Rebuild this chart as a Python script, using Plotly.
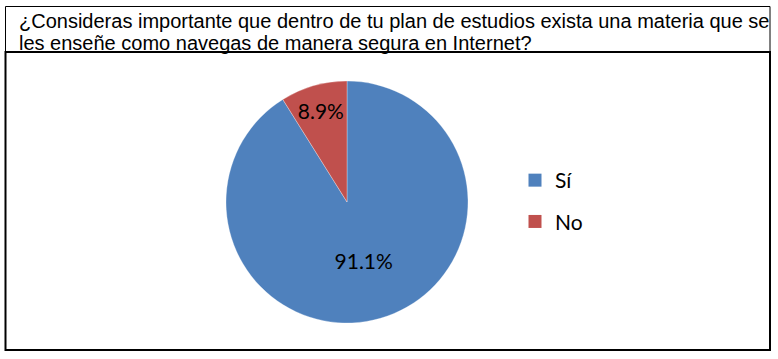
import plotly.graph_objects as go

W, H = 778, 359

title_lines = [
    "¿Consideras importante que dentro de tu plan de estudios exista una materia que se",
    "les enseñe como navegas de manera segura en Internet?",
]
labels = ["Sí", "No"]
values = [91.1, 8.9]
colors = ["#4F81BD", "#C0504D"]

def px_x(x):
    return x / W

def px_y(y):
    return (H - y) / H

cx, cy, r = 347, 202, 121
label_font = dict(family="Lato, Carlito, Calibri, sans-serif", size=21, color="#000000")

fig = go.Figure()
fig.add_trace(go.Pie(
    labels=labels,
    values=values,
    sort=False,
    direction="clockwise",
    rotation=0,
    marker=dict(colors=colors, line=dict(color="rgba(255,255,255,0.6)", width=0.5)),
    texttemplate="%{value:.1f}%",
    textposition="inside",
    insidetextorientation="horizontal",
    textfont=label_font,
    domain=dict(x=[px_x(cx - r), px_x(cx + r)], y=[px_y(cy + r), px_y(cy - r)]),
    hoverinfo="label+percent",
    showlegend=False,
))

# legend entries (one per category)
for lab, col in zip(labels, colors):
    fig.add_trace(go.Scatter(
        x=[None], y=[None], mode="markers", name=lab, legendgroup=lab,
        marker=dict(symbol="square", size=13, color=col),
        showlegend=True, hoverinfo="skip",
    ))

shapes = [
    dict(type="rect", xref="paper", yref="paper", x0=px_x(5.5), x1=px_x(770), y0=px_y(52), y1=px_y(6.5),
         line=dict(color="#000000", width=1), fillcolor="rgba(0,0,0,0)"),
    dict(type="rect", xref="paper", yref="paper", x0=px_x(5.5), x1=px_x(770), y0=px_y(350), y1=px_y(52),
         line=dict(color="#000000", width=2), fillcolor="rgba(0,0,0,0)"),
]

annotations = []
for i, line in enumerate(title_lines):
    annotations.append(dict(
        text=line, xref="paper", yref="paper", x=px_x(17), y=px_y(21.5 + 22 * i),
        xanchor="left", yanchor="middle", showarrow=False,
        font=dict(family="Arial, Liberation Sans, sans-serif", size=20, color="#000000"),
    ))

fig.update_layout(
    width=W, height=H,
    margin=dict(l=0, r=0, t=0, b=0),
    paper_bgcolor="#FFFFFF",
    plot_bgcolor="#FFFFFF",
    xaxis=dict(visible=False),
    yaxis=dict(visible=False),
    showlegend=True,
    legend=dict(
        x=px_x(515), y=px_y(160), xanchor="left", yanchor="top",
        font=label_font,
        bgcolor="rgba(0,0,0,0)",
        tracegroupgap=11,
        itemwidth=30,
    ),
    shapes=shapes,
    annotations=annotations,
)

fig.write_html(
    "out.html",
    config={"displayModeBar": False},
    post_script="document.body.style.margin='0';document.body.style.overflow='hidden';",
)
